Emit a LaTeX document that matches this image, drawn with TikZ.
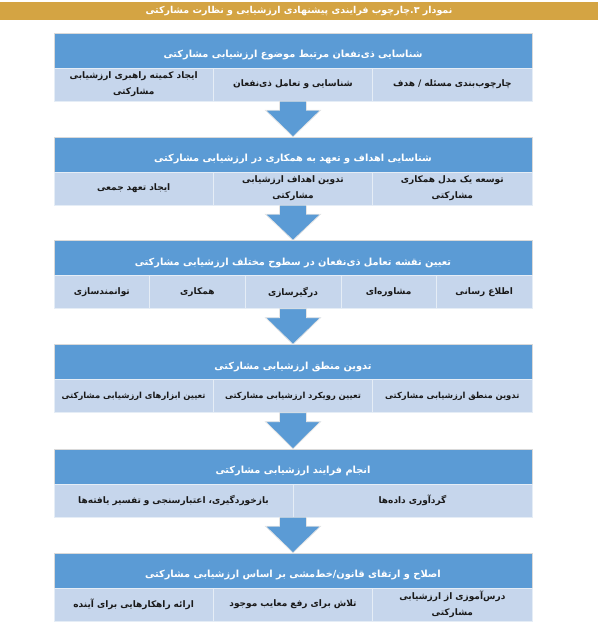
\documentclass[tikz,border=0pt]{standalone}
\usepackage{fontspec}
\newfontfamily\farsi[Script=Arabic]{DejaVu Sans}
\TeXXeTstate=1
\newcommand{\fatext}[1]{\beginR #1\endR}
\definecolor{hblue}{HTML}{5B9BD5}
\definecolor{cblue}{HTML}{C6D6EC}
\definecolor{titlegold}{HTML}{D4A443}
\tikzset{
  head/.style={fill=hblue, draw=gray!30, minimum width=478pt, minimum height=35pt,
    inner sep=0pt, text=white, font=\farsi\bfseries\fontsize{9.8}{11}\selectfont,
    text height=19pt, text depth=5pt},
  row/.style={fill=cblue, draw=gray!30, minimum width=478pt, minimum height=33pt, inner sep=0pt},
  cell/.style={draw=white!55!cblue, minimum height=33pt, inner sep=1pt, align=center,
    text=black!90, font=\farsi\bfseries\fontsize{9}{16}\selectfont},
  cellthree/.style={cell, minimum width=159.33pt, text width=156pt},
  cellfive/.style={cell, minimum width=95.6pt, text width=92pt},
  celltwo/.style={cell, minimum width=239pt, text width=234pt},
  smallcell/.style={font=\farsi\bfseries\fontsize{8.4}{16}\selectfont},
  bigarr/.style={fill=hblue, draw=gray!20, line width=0.8pt, line join=miter}
}
\newcommand{\bigdown}[2]{%
  \draw[bigarr] ([xshift=-13.5pt]#1.south) -- ([xshift=13.5pt]#1.south)
    -- ([xshift=13.5pt,yshift=-9pt]#1.south) -- ([xshift=27.5pt,yshift=-9pt]#1.south)
    -- (#2.north) -- ([xshift=-27.5pt,yshift=-9pt]#1.south)
    -- ([xshift=-13.5pt,yshift=-9pt]#1.south) -- cycle;}
\begin{document}
\begin{tikzpicture}[x=1pt, y=-1pt]
  \useasboundingbox (0,0) rectangle (598,622);

  % title bar
  \node [fill=titlegold, minimum width=598pt, minimum height=18pt, inner sep=0pt,
  text=white, font=\farsi\bfseries\fontsize{9.5}{11}\selectfont] (title) at (299,11)
  {\fatext{نمودار ۳.چارچوب فرایندی پیشنهادی ارزشیابی و نظارت مشارکتی}};

  % box 1
  \node [head] (h1) at (293,50.5) {\fatext{شناسایی ذی‌نفعان مرتبط موضوع ارزشیابی مشارکتی}};
  \node [row] (r1) at (293,84.5) {};
  \node [cellthree] (c11) at (452.33,84.5) {\fatext{چارچوب‌بندی مسئله / هدف}};
  \node [cellthree] (c12) at (293,84.5) {\fatext{شناسایی و تعامل ذی‌نفعان}};
  \node [cellthree] (c13) at (133.67,84.5)
  {\fatext{ایجاد کمیته راهبری ارزشیابی}\\\fatext{مشارکتی}};

  % box 2
  \node [head] (h2) at (293,154.5) {\fatext{شناسایی اهداف و تعهد به همکاری در ارزشیابی مشارکتی}};
  \node [row] (r2) at (293,188.5) {};
  \node [cellthree] (c21) at (452.33,188.5)
  {\fatext{توسعه یک مدل همکاری}\\\fatext{مشارکتی}};
  \node [cellthree] (c22) at (293,188.5)
  {\fatext{تدوین اهداف ارزشیابی}\\\fatext{مشارکتی}};
  \node [cellthree] (c23) at (133.67,188.5) {\fatext{ایجاد تعهد جمعی}};

  % box 3
  \node [head] (h3) at (293,258) {\fatext{تعیین نقشه تعامل ذی‌نفعان در سطوح مختلف ارزشیابی مشارکتی}};
  \node [row] (r3) at (293,292) {};
  \node [cellfive] (c31) at (484.2,292) {\fatext{اطلاع رسانی}};
  \node [cellfive] (c32) at (388.6,292) {\fatext{مشاوره‌ای}};
  \node [cellfive] (c33) at (293,292) {\fatext{درگیرسازی}};
  \node [cellfive] (c34) at (197.4,292) {\fatext{همکاری}};
  \node [cellfive] (c35) at (101.8,292) {\fatext{توانمندسازی}};

  % box 4
  \node [head] (h4) at (293,362) {\fatext{تدوین منطق ارزشیابی مشارکتی}};
  \node [row] (r4) at (293,396) {};
  \node [cellthree, smallcell] (c41) at (452.33,396) {\fatext{تدوین منطق ارزشیابی مشارکتی}};
  \node [cellthree, smallcell] (c42) at (293,396) {\fatext{تعیین رویکرد ارزشیابی مشارکتی}};
  \node [cellthree, smallcell] (c43) at (133.67,396) {\fatext{تعیین ابزارهای ارزشیابی مشارکتی}};

  % box 5
  \node [head] (h5) at (293,466.5) {\fatext{انجام فرایند ارزشیابی مشارکتی}};
  \node [row] (r5) at (293,500.5) {};
  \node [celltwo] (c51) at (412.5,500.5) {\fatext{گردآوری داده‌ها}};
  \node [celltwo] (c52) at (173.5,500.5) {\fatext{بازخوردگیری، اعتبارسنجی و تفسیر یافته‌ها}};

  % box 6
  \node [head] (h6) at (293,570.5) {\fatext{اصلاح و ارتقای قانون/خط‌مشی بر اساس ارزشیابی مشارکتی}};
  \node [row] (r6) at (293,604.5) {};
  \node [cellthree] (c61) at (452.33,604.5)
  {\fatext{درس‌آموزی از ارزشیابی}\\\fatext{مشارکتی}};
  \node [cellthree] (c62) at (293,604.5) {\fatext{تلاش برای رفع معایب موجود}};
  \node [cellthree] (c63) at (133.67,604.5) {\fatext{ارائه راهکارهایی برای آینده}};

  % arrows
  \bigdown{r1}{h2}
  \bigdown{r2}{h3}
  \bigdown{r3}{h4}
  \bigdown{r4}{h5}
  \bigdown{r5}{h6}
\end{tikzpicture}
\end{document}
